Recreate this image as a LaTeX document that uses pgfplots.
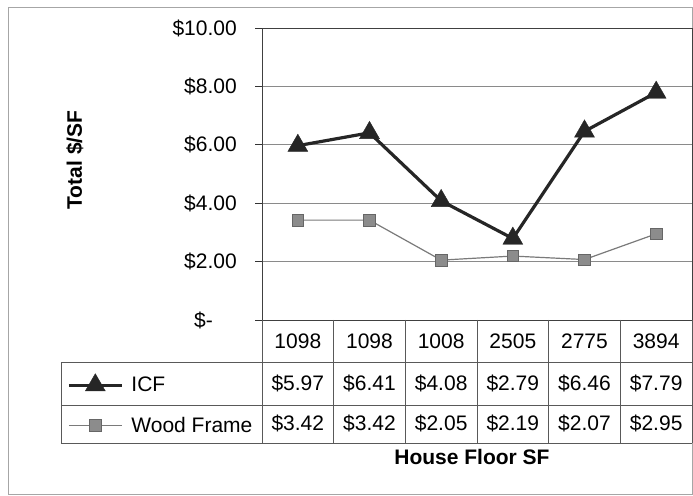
\documentclass[border=0pt]{standalone}
\usepackage{fontspec}
\setmainfont{Liberation Sans}
\usepackage{pgfplots}
\usepackage{pgfplotstable}
\pgfplotsset{compat=1.18}
\newcommand\f{\fontsize{21}{25}\selectfont}
\definecolor{icf}{HTML}{262626}
\definecolor{wood}{HTML}{7A7A7A}
\definecolor{woodfill}{HTML}{8C8C8C}
\definecolor{gridc}{HTML}{8A8A8A}
\pgfplotstableread{
x sf icf wood
0 1098 5.97 3.42
1 1098 6.41 3.42
2 1008 4.08 2.05
3 2505 2.79 2.19
4 2775 6.46 2.07
5 3894 7.79 2.95
}\data
\begin{document}
\begin{tikzpicture}
\path (0pt,0pt) rectangle (693pt,495pt);
\draw[black!35, line width=0.8pt] (8pt,1pt) rectangle (692pt,488pt);
\begin{axis}[
  at={(262pt,175pt)}, anchor=south west,
  scale only axis, width=430pt, height=292pt,
  xmin=-0.5, xmax=5.5, ymin=0, ymax=10,
  clip=false,
  xtick={0,1,2,3,4,5},
  xticklabels={1098,1098,1008,2505,2775,3894},
  ytick={0,2,4,6,8,10},
  yticklabels={\mbox{\$-\hspace{24pt}},\mbox{\$2.00},\mbox{\$4.00},\mbox{\$6.00},\mbox{\$8.00},\mbox{\$10.00}},
  tick pos=left, tick align=outside, major tick length=7pt,
  xtick style={draw=none},
  ytick style={draw=black!80, line width=0.8pt},
  ymajorgrids, grid style={gridc, line width=0.8pt},
  axis line style={black!75, line width=0.9pt},
  tick label style={font=\f},
  yticklabel style={anchor=east, inner sep=0pt, xshift=-18pt},
  xticklabel style={anchor=center, inner sep=0pt, yshift=-14pt},
  label style={font=\f\bfseries},
  ylabel={Total \$/SF},
  ylabel style={at={(axis description cs:-0.435,0.548)}, anchor=center},
  legend style={at={(axis description cs:-0.4674,-0.1438)}, anchor=north west,
    draw=none, fill=none, inner xsep=6pt, inner ysep=0pt, row sep=0pt, column sep=8pt,
    font=\f, nodes={inner sep=0pt, minimum height=40pt}, yshift=-3pt},
  legend cell align=left,
  legend image code/.code={\draw[mark repeat=2,mark phase=2,#1] plot coordinates {(0pt,0pt) (26.5pt,0pt) (53pt,0pt)};},
]
\addplot[icf, line width=3.2pt, mark=triangle*, mark size=11.5pt,
  mark options={solid, line width=0.4pt, fill=icf}] table[x=x,y=icf]{\data};
\addlegendentry{ICF}
\addplot[wood, line width=1.2pt, mark=square*, mark size=5.75pt,
  mark options={line width=0.6pt, draw=black!60, fill=woodfill}] table[x=x,y=wood]{\data};
\addlegendentry{Wood Frame}
\addplot[draw=none, forget plot, point meta=explicit,
  nodes near coords={\mbox{\$\pgfmathprintnumber[fixed,fixed zerofill,precision=2,assume math mode=true]{\pgfplotspointmeta}}},
  nodes near coords align=center,
  every node near coord/.append style={font=\f, anchor=center, inner sep=0pt}]
  table[x=x, y expr=-2.19, meta=icf]{\data};
\addplot[draw=none, forget plot, point meta=explicit,
  nodes near coords={\mbox{\$\pgfmathprintnumber[fixed,fixed zerofill,precision=2,assume math mode=true]{\pgfplotspointmeta}}},
  nodes near coords align=center,
  every node near coord/.append style={font=\f, anchor=center, inner sep=0pt}]
  table[x=x, y expr=-3.56, meta=wood]{\data};
\pgfplotsinvokeforeach{-0.5,0.5,1.5,2.5,3.5,4.5,5.5}{
  \draw[black!65, line width=0.8pt] (axis cs:#1,0) -- (axis cs:#1,-4.21);
}
\draw[black!65, line width=0.8pt] (axis cs:-3.305,-1.44) -- (axis cs:5.5,-1.44);
\draw[black!65, line width=0.8pt] (axis cs:-3.305,-2.91) -- (axis cs:5.5,-2.91);
\draw[black!65, line width=0.8pt] (axis cs:-3.305,-4.21) -- (axis cs:5.5,-4.21);
\draw[black!65, line width=0.8pt] (axis cs:-3.305,-1.44) -- (axis cs:-3.305,-4.21);
\node[font=\f\bfseries, anchor=center] at (axis cs:2.43,-4.69) {House Floor SF};
\end{axis}
\end{tikzpicture}
\end{document}
